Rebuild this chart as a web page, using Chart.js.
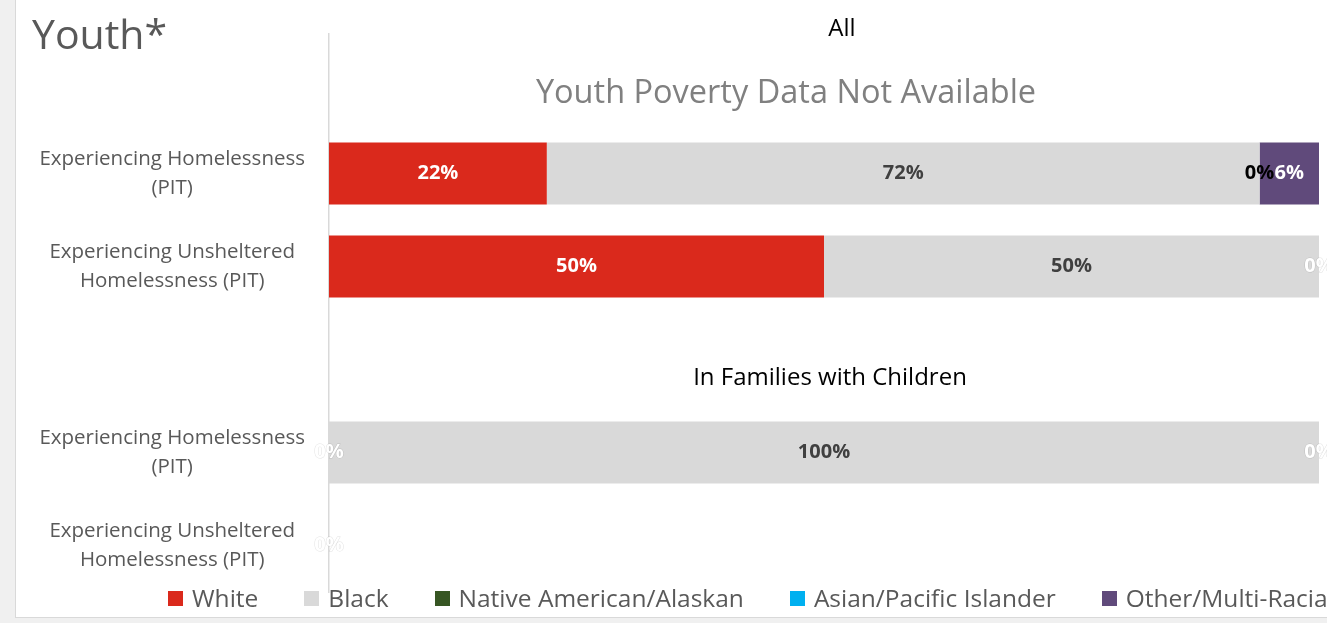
<!DOCTYPE html>
<html>
<head>
<meta charset="utf-8">
<script src="https://cdn.jsdelivr.net/npm/chart.js@4.4.1/dist/chart.umd.min.js"></script>
<style>
  body { margin:0; background:#f0f0f0; overflow:hidden; width:1327px; height:623px; font-family:"Open Sans", sans-serif; }
  #frame { position:absolute; left:15px; top:0; width:1320px; height:617px; background:#fff; border-left:1px solid #d9d9d9; border-bottom:1px solid #d9d9d9; }
  #title { position:absolute; left:32px; top:13px; font-size:41px; line-height:1; color:#595959; }
  #wrap { position:absolute; left:16px; top:0; width:1311px; height:618px; }
  #legend { position:absolute; left:168px; top:586px; display:flex; gap:46px; align-items:center; white-space:nowrap; }
  #legend .item { display:flex; align-items:center; font-size:24.5px; line-height:24px; color:#595959; }
  #legend .box { width:15px; height:15px; margin-right:9px; }
</style>
</head>
<body>
<div id="frame"></div>
<div id="wrap"><canvas id="chart"></canvas></div>
<div id="title">Youth*</div>
<div id="legend"></div>
<script>
const categories = [
  '',
  ['Experiencing Homelessness', '(PIT)'],
  ['Experiencing Unsheltered', 'Homelessness (PIT)'],
  '',
  ['Experiencing Homelessness', '(PIT)'],
  ['Experiencing Unsheltered', 'Homelessness (PIT)']
];
const seriesNames = ['White', 'Black', 'Native American/Alaskan', 'Asian/Pacific Islander', 'Other/Multi-Racial'];
const white  = [null, 22, 50, null, 0, 0];
const black  = [null, 72, 50, null, 100, 0];
const native = [null, 0, 0, null, 0, 0];
const asian  = [null, 0, 0, null, 0, 0];
const other  = [null, 6, 0, null, 0, 0];
const colors = ['#DA291C', '#D9D9D9', '#375623', '#00B0F0', '#604A7B'];
const labelColors = ['#FFFFFF', '#404040', '#FFFFFF', '#000000', '#FFFFFF'];

const series = [white, black, native, asian, other];

// value labels, one per spot in a row (later series win, like overlapping labels)
const valueLabels = {
  id: 'valueLabels',
  afterDatasetsDraw(chart) {
    const ctx = chart.ctx;
    ctx.save();
    ctx.font = 'bold 20px "Open Sans", sans-serif';
    ctx.textAlign = 'center';
    ctx.textBaseline = 'middle';
    categories.forEach((c, i) => {
      const placed = {};
      chart.data.datasets.forEach((ds, d) => {
        const v = ds.data[i];
        if (v === null || v === undefined) return;
        const bar = chart.getDatasetMeta(d).data[i];
        const x = (bar.x + bar.base) / 2;
        placed[Math.round(x)] = { text: v + '%', x: x, y: bar.y, color: labelColors[d], zero: v === 0 };
      });
      Object.values(placed).forEach(l => {
        if (l.zero && l.color === '#FFFFFF') {
          ctx.lineWidth = 1;
          ctx.strokeStyle = 'rgba(0,0,0,0.13)';
          ctx.strokeText(l.text, l.x, l.y);
        }
        ctx.fillStyle = l.color;
        ctx.fillText(l.text, l.x, l.y);
      });
    });
    ctx.restore();
  }
};

// section headings drawn over the plot
const notes = {
  id: 'notes',
  afterDraw(chart) {
    const ctx = chart.ctx, a = chart.chartArea, y = chart.scales.y;
    ctx.save();
    ctx.textAlign = 'center';
    ctx.textBaseline = 'middle';
    ctx.fillStyle = '#000';
    ctx.font = '24px "Open Sans", sans-serif';
    ctx.fillText('All', a.left + 513, a.top - 5);
    ctx.fillText('In Families with Children', a.left + 501, y.getPixelForValue(3) + 19);
    ctx.fillStyle = '#808080';
    ctx.font = '32.5px "Open Sans", sans-serif';
    ctx.fillText('Youth Poverty Data Not Available', a.left + 457, y.getPixelForValue(0) + 13);
    ctx.restore();
  }
};

const chart = new Chart(document.getElementById('chart'), {
  type: 'bar',
  data: {
    labels: categories,
    datasets: series.map((s, i) => ({
      label: seriesNames[i],
      data: s,
      backgroundColor: colors[i],
      borderWidth: 0,
      barPercentage: 0.667,
      categoryPercentage: 1
    }))
  },
  options: {
    indexAxis: 'y',
    responsive: true,
    maintainAspectRatio: false,
    animation: false,
    layout: { padding: { top: 34, bottom: 26, right: 8, left: 0 } },
    plugins: { legend: { display: false }, tooltip: { enabled: false } },
    scales: {
      x: { stacked: true, min: 0, max: 100, display: false },
      y: {
        stacked: true,
        afterFit(scale) {
          scale.width = 313;
          scale.paddingTop = 0;
          scale.paddingBottom = 0;
        },
        grid: { display: false, drawTicks: false },
        border: { display: true, color: '#D9D9D9', width: 1.5 },
        ticks: {
          crossAlign: 'center',
          padding: 24,
          color: '#595959',
          font: { family: '"Open Sans", sans-serif', size: 20.5, lineHeight: 1.42 }
        }
      }
    }
  },
  plugins: [valueLabels, notes]
});

const legendEl = document.getElementById('legend');
chart.data.datasets.forEach(ds => {
  const item = document.createElement('div');
  item.className = 'item';
  const box = document.createElement('span');
  box.className = 'box';
  box.style.background = ds.backgroundColor;
  item.appendChild(box);
  item.appendChild(document.createTextNode(ds.label));
  legendEl.appendChild(item);
});
</script>
</body>
</html>
